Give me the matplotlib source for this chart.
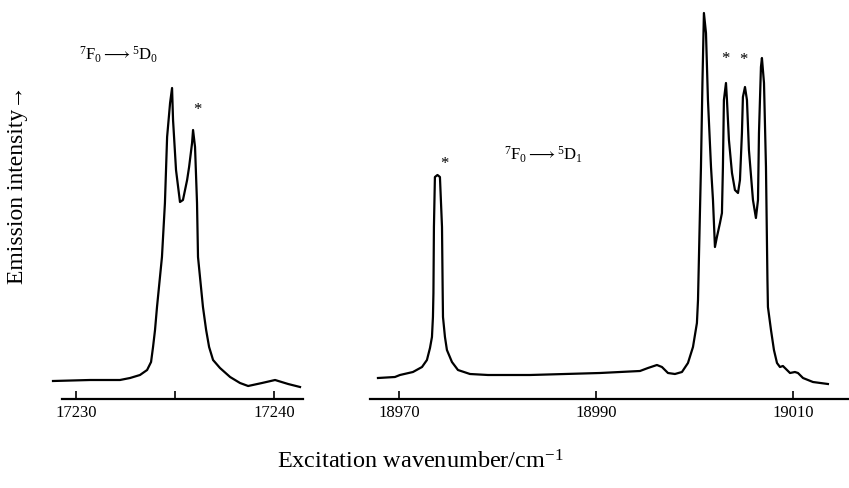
import matplotlib
matplotlib.use("Agg")
import matplotlib.pyplot as plt

plt.rcParams['font.family'] = ['Liberation Serif', 'DejaVu Serif']
plt.rcParams['mathtext.fontset'] = 'custom'
plt.rcParams['mathtext.rm'] = 'Liberation Serif'
plt.rcParams['mathtext.it'] = 'Liberation Serif:italic'

# ---- data ----
# 7F0 -> 5D0 band (wavenumber, intensity in arbitrary units)
d0_wavenumber = [17228.84, 17230.71, 17232.22, 17232.73, 17233.23, 17233.59, 17233.79,
                 17233.89, 17233.99, 17234.09, 17234.34, 17234.49, 17234.60,
                 17234.75, 17234.85, 17234.90, 17235.05, 17235.25, 17235.40, 17235.61,
                 17235.71, 17235.86, 17235.91, 17236.01, 17236.11, 17236.16,
                 17236.41, 17236.57, 17236.72, 17236.92, 17237.27, 17237.78, 17238.28,
                 17238.69, 17239.39, 17240.05, 17240.71, 17241.31]
d0_intensity = [18, 19, 19, 21, 24, 29, 37,
                52, 69, 92, 142, 196, 262,
                296, 311, 279, 229, 197, 199, 219,
                232, 256, 269, 252, 196, 142,
                92, 69, 52, 39, 31, 22, 16,
                13, 16, 19, 15, 12]

# 7F0 -> 5D1 band
d1_wavenumber = [18967.87, 18969.59, 18970.10, 18971.42, 18972.34, 18972.84, 18973.15,
                 18973.35, 18973.45, 18973.50, 18973.55, 18973.65, 18973.91, 18974.16,
                 18974.37, 18974.44, 18974.47, 18974.67, 18974.87, 18975.38, 18975.99,
                 18977.21, 18979.04, 18983.30, 18990.41, 18994.47, 18995.28, 18996.19,
                 18996.70, 18997.31, 18998.02, 18998.73, 18999.34, 18999.85, 19000.25,
                 19000.36, 19000.51, 19000.66, 19000.81, 19000.96, 19001.17, 19001.37,
                 19001.68, 19001.88, 19002.08, 19002.28, 19002.59, 19002.79, 19002.89,
                 19002.99, 19003.20, 19003.30, 19003.50, 19003.81, 19004.11, 19004.42,
                 19004.62, 19004.82, 19004.92, 19005.13, 19005.33, 19005.53, 19005.94,
                 19006.24, 19006.45, 19006.55, 19006.75, 19006.85, 19007.06, 19007.26,
                 19007.41, 19007.46, 19007.77, 19008.07, 19008.38, 19008.68, 19008.98,
                 19009.29, 19009.70, 19010.20, 19010.51, 19011.02, 19012.03, 19013.55]
d1_intensity = [21, 22, 24, 27, 32, 39, 51,
                62, 82, 106, 172, 222, 224, 222,
                172, 106, 82, 62, 49, 37, 29,
                25, 24, 24, 26, 28, 31, 34,
                32, 26, 25, 27, 36, 52, 76,
                99, 166, 232, 316, 386, 366, 299,
                232, 199, 152, 162, 176, 186, 232,
                299, 316, 299, 259, 226, 209, 206,
                219, 266, 302, 312, 299, 249, 199,
                181, 199, 266, 332, 341, 316, 232,
                119, 92, 69, 49, 36, 32, 33,
                30, 26, 27, 26, 21, 17, 15]

d0_ticks = [17230, 17235, 17240]
d0_ticklabels = ['17230', '', '17240']
d1_ticks = [18970, 18990, 19010]
d1_ticklabels = ['18970', '18990', '19010']

# asterisks marking peaks
d0_star = [(17236.11, 289)]
d1_stars = [(18974.57, 235), (19003.10, 340), (19004.92, 339)]

W, H = 849, 488
fig = plt.figure(figsize=(W / 100, H / 100), dpi=100)

def px_axes(x0, x1, ybot=399, ytop=0):
    return fig.add_axes([x0 / W, (H - ybot) / H, (x1 - x0) / W, (ybot - ytop) / H])

ax1 = px_axes(53, 303)
ax2 = px_axes(370, 849)

for ax in (ax1, ax2):
    for s in ('left', 'right', 'top'):
        ax.spines[s].set_visible(False)
    ax.spines['bottom'].set_linewidth(1.6)
    ax.set_yticks([])
    ax.set_ylim(0, 399)
    ax.tick_params(axis='x', direction='in', length=6, width=1.2, pad=4,
                   labelsize=12)
    ax.patch.set_alpha(0)

ax1.plot(d0_wavenumber, d0_intensity, color='black', lw=1.6, clip_on=False,
         solid_joinstyle='round')
ax1.set_xlim(17228.84, 17241.46)
ax1.spines['bottom'].set_bounds(17229.3, 17241.46)
ax1.set_xticks(d0_ticks)
ax1.set_xticklabels(d0_ticklabels)

ax2.plot(d1_wavenumber, d1_intensity, color='black', lw=1.6, clip_on=False,
         solid_joinstyle='round')
ax2.set_xlim(18967.06, 19015.69)
ax2.set_xticks(d1_ticks)
ax2.set_xticklabels(d1_ticklabels)

for (x, y) in d0_star:
    ax1.text(x, y, '*', ha='center', va='center', fontsize=12)
for (x, y) in d1_stars:
    ax2.text(x, y, '*', ha='center', va='center', fontsize=12)

ax1.text(17232.12, 344, r'$^7$F$_0$$\longrightarrow$$^5$D$_0$', ha='center', va='center',
         fontsize=12)
ax2.text(18984.62, 244, r'$^7$F$_0$$\longrightarrow$$^5$D$_1$', ha='center', va='center',
         fontsize=12)

fig.text(18 / W, 1 - 185 / H, 'Emission intensity\u2192', rotation=90,
         ha='center', va='center', fontsize=17)
fig.text(420 / W, 1 - 462 / H, r'Excitation wavenumber/cm$^{\mathregular{-1}}$',
         ha='center', va='center', fontsize=17.5)

fig.savefig('out.png', dpi=100)
